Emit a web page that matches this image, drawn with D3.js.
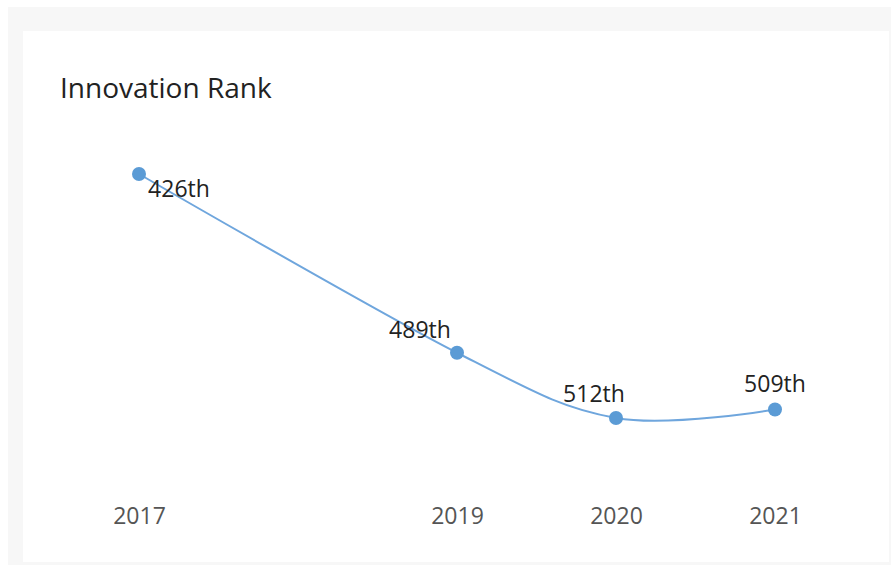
<!DOCTYPE html>
<html>
<head>
<meta charset="utf-8">
<script src="https://cdnjs.cloudflare.com/ajax/libs/d3/7.8.5/d3.min.js"></script>
<style>
  html, body { margin: 0; padding: 0; background: #ffffff; }
  svg { display: block; }
</style>
</head>
<body>
<div id="chart"></div>
<script>
var years = [2017, 2019, 2020, 2021];
var ranks = [426, 489, 512, 509];
var rankLabels = ["426th", "489th", "512th", "509th"];
var title = "Innovation Rank";

var width = 891;
var height = 565;

var svg = d3.select("#chart").append("svg")
  .attr("width", width)
  .attr("height", height);

// page panel and card
svg.append("rect")
  .attr("x", 8).attr("y", 7)
  .attr("width", width - 8).attr("height", height - 7)
  .attr("fill", "#f7f7f7");
svg.append("rect")
  .attr("x", 23).attr("y", 31)
  .attr("width", 866).attr("height", 531)
  .attr("fill", "#ffffff");

svg.append("text")
  .attr("x", 60)
  .attr("y", 98)
  .style("font-family", "'Open Sans', sans-serif")
  .style("font-size", "28px")
  .style("fill", "#222222")
  .text(title);

var x = d3.scaleLinear()
  .domain(d3.extent(years))
  .range([139, 775]);

var y = d3.scaleLinear()
  .domain(d3.extent(ranks))
  .range([174, 418]);

var points = years.map(function(d, i) {
  return { year: d, rank: ranks[i], label: rankLabels[i] };
});

var xAxis = d3.axisBottom(x)
  .tickValues(years)
  .tickFormat(d3.format("d"))
  .tickSize(0)
  .tickPadding(0);

var axisG = svg.append("g")
  .attr("transform", "translate(0,508)")
  .call(xAxis);
axisG.select(".domain").remove();
axisG.selectAll("text")
  .style("font-family", "'Open Sans', sans-serif")
  .style("font-size", "23px")
  .style("fill", "#555555");

var line = d3.line()
  .x(function(d) { return x(d.year); })
  .y(function(d) { return y(d.rank); })
  .curve(d3.curveCardinal);

svg.append("path")
  .datum(points)
  .attr("d", line)
  .attr("fill", "none")
  .attr("stroke", "#6fa6dd")
  .attr("stroke-width", 2);

svg.selectAll("circle.pt")
  .data(points)
  .enter().append("circle")
  .attr("class", "pt")
  .attr("cx", function(d) { return x(d.year); })
  .attr("cy", function(d) { return y(d.rank); })
  .attr("r", 7)
  .attr("fill", "#5b9bd5");

// labels get pushed off the line like the original's collision handling
var nudge = [[40, 23], [-37, -15], [-22, -16], [0, -17]];

svg.selectAll("text.lbl")
  .data(points)
  .enter().append("text")
  .attr("class", "lbl")
  .attr("x", function(d, i) { return x(d.year) + nudge[i][0]; })
  .attr("y", function(d, i) { return y(d.rank) + nudge[i][1]; })
  .attr("text-anchor", "middle")
  .style("font-family", "'Open Sans', sans-serif")
  .style("font-size", "23px")
  .style("fill", "#222222")
  .text(function(d) { return d.label; });
</script>
</body>
</html>
